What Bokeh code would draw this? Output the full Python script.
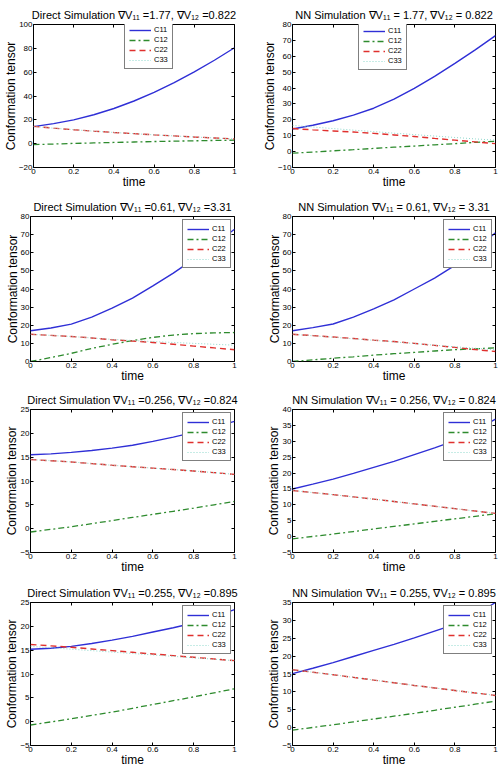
from bokeh.plotting import figure
from bokeh.layouts import column, row
from bokeh.models import FixedTicker, LinearAxis, Range1d, Legend
from bokeh.embed import file_html
from bokeh.resources import INLINE

time = [0.0, 0.1, 0.2, 0.3, 0.4, 0.5, 0.6, 0.7, 0.8, 0.9, 1.0]

titles = [
    "Direct Simulation \u2207V\u2081\u2081 =1.77, \u2207V\u2081\u2082 =0.822",
    "NN Simulation \u2207V\u2081\u2081 = 1.77, \u2207V\u2081\u2082 = 0.822",
    "Direct Simulation \u2207V\u2081\u2081 =0.61, \u2207V\u2081\u2082 =3.31",
    "NN Simulation \u2207V\u2081\u2081 = 0.61, \u2207V\u2081\u2082 = 3.31",
    "Direct Simulation \u2207V\u2081\u2081 =0.256, \u2207V\u2081\u2082 =0.824",
    "NN Simulation \u2207V\u2081\u2081 = 0.256, \u2207V\u2081\u2082 = 0.824",
    "Direct Simulation \u2207V\u2081\u2081 =0.255, \u2207V\u2081\u2082 =0.895",
    "NN Simulation \u2207V\u2081\u2081 = 0.255, \u2207V\u2081\u2082 = 0.895",
]

c11 = [
    [14.3, 16.8, 20.0, 24.3, 29.5, 35.8, 43.0, 51.2, 60.3, 70.0, 80.5],
    [14.2, 16.6, 19.4, 23.0, 27.3, 33.0, 39.8, 47.3, 55.5, 64.0, 73.0],
    [17.0, 18.5, 20.6, 24.5, 29.4, 35.0, 41.7, 48.8, 56.5, 64.5, 73.0],
    [17.0, 18.7, 20.7, 24.5, 29.0, 34.0, 40.0, 46.0, 53.0, 61.5, 71.0],
    [15.5, 15.7, 16.0, 16.4, 16.9, 17.5, 18.3, 19.2, 20.2, 21.3, 22.5],
    [15.0, 16.5, 18.1, 19.9, 21.8, 23.7, 25.8, 27.9, 30.2, 33.4, 37.0],
    [15.2, 15.4, 15.8, 16.4, 17.1, 17.9, 18.8, 19.7, 20.7, 22.0, 23.5],
    [15.1, 16.6, 18.2, 19.9, 21.6, 23.3, 25.1, 27.0, 28.9, 31.5, 35.0],
]
c12 = [
    [-0.8, -0.3, 0.2, 0.6, 1.0, 1.4, 1.8, 2.1, 2.4, 2.7, 2.9],
    [-1.0, -0.3, 0.5, 1.2, 2.0, 2.8, 3.5, 4.3, 5.0, 5.8, 6.5],
    [0.0, 2.2, 4.5, 7.2, 9.5, 11.5, 13.3, 14.6, 15.4, 15.8, 16.0],
    [0.0, 0.9, 1.8, 2.6, 3.5, 4.3, 5.0, 5.8, 6.5, 7.0, 7.5],
    [-0.7, -0.15, 0.4, 1.05, 1.7, 2.35, 3.0, 3.65, 4.3, 5.0, 5.7],
    [-0.7, 0.05, 0.8, 1.6, 2.4, 3.2, 4.0, 4.8, 5.6, 6.4, 7.2],
    [-0.7, -0.05, 0.6, 1.3, 2.0, 2.8, 3.6, 4.4, 5.2, 6.05, 6.9],
    [-0.7, 0.05, 0.8, 1.6, 2.4, 3.2, 4.0, 4.85, 5.7, 6.55, 7.4],
]
c22 = [
    [14.5, 13.0, 11.7, 10.5, 9.4, 8.4, 7.4, 6.5, 5.6, 4.8, 4.0],
    [14.5, 13.7, 13.0, 12.3, 11.5, 10.5, 9.5, 8.3, 7.2, 6.1, 5.0],
    [15.0, 14.4, 13.8, 13.0, 12.0, 11.3, 10.5, 9.5, 8.5, 7.5, 6.5],
    [15.0, 14.3, 13.5, 12.7, 11.8, 11.0, 10.0, 8.9, 7.8, 6.6, 5.5],
    [14.5, 14.25, 14.0, 13.65, 13.3, 13.0, 12.7, 12.4, 12.1, 11.75, 11.4],
    [14.5, 13.85, 13.2, 12.5, 11.8, 11.05, 10.3, 9.55, 8.8, 8.05, 7.3],
    [16.2, 15.9, 15.6, 15.25, 14.9, 14.55, 14.2, 13.85, 13.5, 13.15, 12.8],
    [16.2, 15.5, 14.8, 14.05, 13.3, 12.55, 11.8, 11.1, 10.4, 9.7, 9.0],
]
c33 = [
    [14.5, 13.0, 11.7, 10.5, 9.4, 8.4, 7.4, 6.5, 5.6, 4.8, 4.0],
    [16.5, 15.5, 14.5, 13.5, 12.6, 11.6, 10.7, 9.8, 8.9, 8.0, 7.2],
    [15.0, 14.4, 13.8, 13.0, 12.2, 11.6, 11.0, 10.5, 10.0, 9.5, 9.0],
    [15.0, 14.2, 13.4, 12.5, 11.7, 10.8, 9.9, 9.0, 8.1, 7.3, 6.5],
    [14.5, 14.25, 14.0, 13.65, 13.3, 13.0, 12.7, 12.4, 12.1, 11.75, 11.4],
    [14.5, 13.85, 13.2, 12.5, 11.8, 11.05, 10.3, 9.55, 8.8, 8.05, 7.3],
    [15.8, 15.5, 15.2, 14.9, 14.6, 14.3, 14.0, 13.7, 13.4, 13.1, 12.8],
    [16.2, 15.5, 14.8, 14.05, 13.3, 12.55, 11.8, 11.1, 10.4, 9.7, 9.0],
]

x_ticks = [0, 0.2, 0.4, 0.6, 0.8, 1]
x_tick_labels = ["0", "0.2", "0.4", "0.6", "0.8", "1"]
y_ticks = [
    [-20, 0, 20, 40, 60, 80, 100],
    [-10, 0, 10, 20, 30, 40, 50, 60, 70, 80],
    [0, 10, 20, 30, 40, 50, 60, 70, 80],
    [0, 10, 20, 30, 40, 50, 60, 70, 80],
    [-5, 0, 5, 10, 15, 20, 25],
    [-5, 0, 5, 10, 15, 20, 25, 30, 35, 40],
    [-5, 0, 5, 10, 15, 20, 25],
    [-5, 0, 5, 10, 15, 20, 25, 30, 35],
]
series_names = ["C11", "C12", "C22", "C33"]

FONT = "Liberation Sans"
col_w = [252, 251]
row_h = [192, 193, 193, 192]
col_border = [(30, 18), (40, 8)]
row_border = [(24, 25), (24, 24), (24, 26), (24, 25)]

styles = [
    dict(line_color="#2f2fd6", line_width=1.4, line_dash="solid"),
    dict(line_color="#2e8b2e", line_width=1.3, line_dash="6 3 2 3"),
    dict(line_color="#e0302e", line_width=1.4, line_dash="6 4"),
    dict(line_color="#8fd8cc", line_width=1.0, line_dash="1 2"),
]


def style_axis(ax, show_labels, tick_vals, overrides=None):
    ax.ticker = FixedTicker(ticks=tick_vals)
    ax.major_tick_in = 3
    ax.major_tick_out = 0
    ax.minor_tick_line_color = None
    ax.axis_line_color = None
    ax.major_tick_line_color = "black"
    if show_labels:
        ax.major_label_text_font = FONT
        ax.major_label_text_font_size = "8px"
        ax.major_label_text_color = "black"
        ax.major_label_standoff = 1
    else:
        ax.major_label_text_font_size = "1px"
        ax.major_label_text_color = None
        ax.major_label_standoff = 0
    if overrides:
        ax.major_label_overrides = overrides


def make_panel(i):
    r, c = divmod(i, 2)
    yt = y_ticks[i]
    p = figure(width=col_w[c], height=row_h[r], output_backend="svg",
               toolbar_location=None,
               x_range=Range1d(x_ticks[0], x_ticks[-1]),
               y_range=Range1d(yt[0], yt[-1]),
               min_border_left=col_border[c][0], min_border_right=col_border[c][1],
               min_border_top=row_border[r][0], min_border_bottom=row_border[r][1])
    p.grid.visible = False
    p.outline_line_color = "black"
    p.outline_line_width = 1
    p.background_fill_color = "white"
    p.border_fill_color = "white"

    p.title.text = titles[i]
    p.title.align = "center"
    p.title.text_font = FONT
    p.title.text_font_size = "11px"
    p.title.text_font_style = "normal"
    p.title.text_color = "black"
    p.title.standoff = 8
    p.title.offset = 0

    xover = {v: s for v, s in zip(x_ticks, x_tick_labels)}
    style_axis(p.xaxis[0], True, x_ticks, xover)
    style_axis(p.yaxis[0], True, yt)
    p.xaxis.axis_label = "time"
    p.yaxis.axis_label = "Conformation tensor"
    for ax in (p.xaxis[0], p.yaxis[0]):
        ax.axis_label_text_font = FONT
        ax.axis_label_text_font_size = "12px"
        ax.axis_label_text_font_style = "normal"
        ax.axis_label_text_color = "black"
        ax.axis_label_standoff = -2

    top = LinearAxis()
    style_axis(top, False, x_ticks)
    p.add_layout(top, "above")
    right = LinearAxis()
    style_axis(right, False, yt)
    p.add_layout(right, "right")

    items = []
    for k, data in enumerate([c11[i], c12[i], c22[i], c33[i]]):
        rr = p.line(time, data, **styles[k])
        items.append((series_names[k], [rr]))

    if r == 0:
        loc = (91, 98) if c == 0 else (66, 97)
        margin = 0
    else:
        loc = "top_right"
        margin = 3
    leg = Legend(items=items, location=loc, margin=margin,
                 label_text_font=FONT, label_text_font_size="7.5px",
                 label_text_color="black",
                 glyph_width=22, glyph_height=8, label_height=8,
                 label_width=14, label_standoff=3, spacing=1, padding=4,
                 border_line_color="black", border_line_width=1,
                 background_fill_color="white", background_fill_alpha=1.0)
    p.add_layout(leg, "center")
    return p


panels = [make_panel(i) for i in range(8)]
layout = column(*[row(panels[2 * k], panels[2 * k + 1], spacing=0) for k in range(4)], spacing=0)

open("out.html", "w").write(file_html(layout, INLINE))
